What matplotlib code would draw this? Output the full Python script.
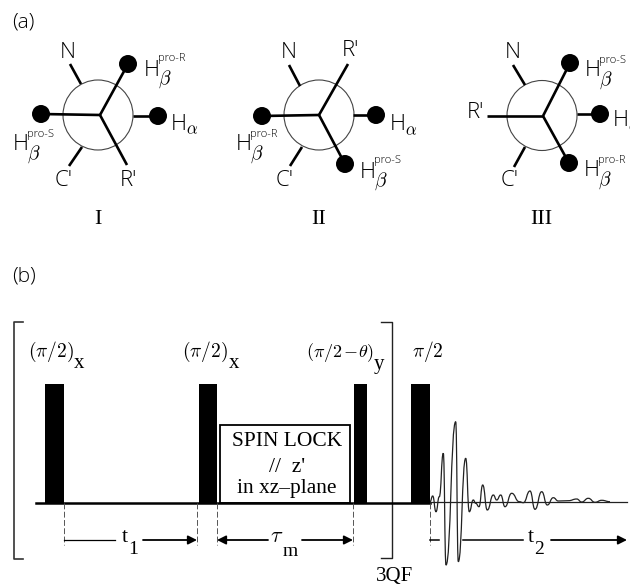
import matplotlib
matplotlib.use("Agg")
import matplotlib.pyplot as plt
from matplotlib.patches import Circle, Rectangle, PathPatch
from matplotlib.path import Path

# everything is in reference pixels, y going down
hubs = [(100, 115), (319, 115), (543, 116)]
circles = [(98, 115), (319, 115), (542, 115.5)]
radius = 35
bonds_long = [
    [(41, 114), (128, 64), (127, 165)],
    [(262, 116), (348, 64), (345, 164)],
    [(487, 116), (570, 63), (569, 163)],
]
stubs = [
    [((81, 84), (70, 64)), ((82, 147), (69, 166)), ((133, 116), (158, 116))],
    [((300, 86), (289, 65)), ((302, 147), (290, 166)), ((353, 115), (376, 115))],
    [((525, 85), (513, 65)), ((525, 147), (514, 167)), ((577, 114), (600, 114))],
]
dots = [
    [(41, 114), (128, 64), (158, 116)],
    [(262, 116), (345, 164), (376, 115)],
    [(570, 63), (569, 163), (600, 114)],
]
atom_labels = [
    ("N", 68, 52), ("C'", 64, 180), ("R'", 128, 180),
    ("N", 289, 52), ("C'", 285, 180), ("R'", 350, 50),
    ("N", 513, 53), ("C'", 510, 180), ("R'", 475, 113),
]
h_beta = [
    (144, 70, "pro-R"), (13, 145, "pro-S"),
    (236, 145, "pro-R"), (360, 172, "pro-S"),
    (585, 71, "pro-S"), (584, 171, "pro-R"),
]
h_alpha = [(171, 124), (390, 125), (613, 121)]
numerals = [("I", 98, 220), ("II", 319, 220), ("III", 541, 220)]

pulses = [(45, 64), (199, 217), (354, 367), (411, 430)]
pulse_top = 384
baseline_y = 503
dash_x = [64, 197, 217, 353, 430]
pulse_labels = [
    (28, 352, "$(\\pi/2)$", 74, 363, "x"),
    (182, 352, "$(\\pi/2)$", 229, 363, "x"),
    (306, 352, "$(\\pi/2\\,{\\mathrm{-}}\\theta)$", 373.5, 364, "y"),
]
box_lines = ["SPIN LOCK", "//  z'", "in xz\u2013plane"]
box_line_y = [441, 468, 489]

# extrema of the decay
fid_x = [430, 432.7, 436, 439.3, 443.3, 446, 455.7, 458.3, 465.7, 469.3, 473.3, 475.7,
         479, 482.7, 487.3, 493.3, 496.7, 500.7, 505, 511.7, 519.3, 523.3, 530, 535,
         541.7, 547.3, 553.3, 558.3, 568.3, 576.7, 581.7, 588.3, 595, 601.7, 610]
fid_y = [501.7, 496, 511.7, 496.7, 453.3, 565, 421.7, 561.7, 458.3, 511.7, 500, 503.3,
         506.7, 485, 510, 495, 500, 495, 506.7, 493.3, 501.7, 502.7, 491, 509.3,
         491.7, 505, 497.7, 501, 500.7, 499, 502, 498.3, 502.3, 500.3, 501.7]

plt.rcParams["font.family"] = ["Liberation Serif", "DejaVu Sans"]
plt.rcParams["mathtext.fontset"] = "cm"

fig = plt.figure(figsize=(6.3, 5.85), dpi=100)
ax = fig.add_axes([0, 0, 1, 1])
ax.set_xlim(0, 630)
ax.set_ylim(585, 0)
ax.axis("off")

SANS = "Open Sans"
ax.text(12, 23, "(a)", family=SANS, fontsize=15, ha="left", va="center", fontweight="light")
ax.text(12, 277, "(b)", family=SANS, fontsize=15, ha="left", va="center", fontweight="light")

# Newman projections
for hub, c, longs, st, ds in zip(hubs, circles, bonds_long, stubs, dots):
    ax.add_patch(Circle(c, radius, fc="white", ec="#444444", lw=0.8, zorder=1))
    for end in longs:
        ax.plot([hub[0], end[0]], [hub[1], end[1]], color="black", lw=1.9, zorder=2,
                solid_capstyle="butt")
    for a, b in st:
        ax.plot([a[0], b[0]], [a[1], b[1]], color="black", lw=1.9, zorder=2,
                solid_capstyle="butt")
    for d in ds:
        ax.add_patch(Circle(d, 9, fc="black", ec="none", zorder=3))

for txt, x, y in atom_labels:
    ax.text(x, y, txt, family=SANS, fontsize=16, ha="center", va="center", fontweight="light")
for x, y, tag in h_beta:
    ax.text(x, y, "H", family=SANS, fontsize=16, ha="left", va="center", fontweight="light")
    ax.text(x + 14, y + 9, "$\\beta$", fontsize=14, ha="left", va="center")
    ax.text(x + 14, y - 11, tag, family=SANS, fontsize=8, ha="left", va="center", fontweight="light")
for x, y in h_alpha:
    ax.text(x, y, "H", family=SANS, fontsize=16, ha="left", va="center", fontweight="light")
    ax.text(x + 15, y + 6, "$\\alpha$", fontsize=12, ha="left", va="center", clip_on=True)
for txt, x, y in numerals:
    ax.text(x, y, txt, fontsize=16, ha="center", va="center")

# pulse sequence
ax.plot([23, 14, 14, 23], [322, 322, 559, 559], color="#333333", lw=1.2)
ax.plot([381, 392, 392, 381], [322, 322, 558, 558], color="#222222", lw=1.0)

ax.plot([36, 430], [baseline_y, baseline_y], color="black", lw=1.8, zorder=2)
ax.plot([430, 627], [501.7, 501.7], color="#222222", lw=0.9, zorder=2)
ax.add_patch(Rectangle((220, 425), 130, baseline_y - 425, fc="white", ec="black", lw=1.3, zorder=1))
for x0, x1 in pulses:
    ax.add_patch(Rectangle((x0, pulse_top), x1 - x0, baseline_y - pulse_top, fc="black", ec="none", zorder=3))
for x in dash_x:
    ax.plot([x, x], [baseline_y, 545], color="#555555", lw=0.7, ls=(0, (6, 2.5)))

for i, (x, y, txt, sx, sy, sub) in enumerate(pulse_labels):
    ax.text(x, y, txt, fontsize=13 if i == 2 else 14, ha="left", va="center")
    ax.text(sx, sy, sub, fontsize=15, ha="left", va="center")
ax.text(412, 352, "$\\pi/2$", fontsize=14, ha="left", va="center")
for txt, y in zip(box_lines, box_line_y):
    ax.text(287, y, txt, fontsize=15.5, ha="center", va="center")

# FID, one s-curve between neighbouring extrema
verts = [(fid_x[0], fid_y[0])]
codes = [Path.MOVETO]
for i in range(len(fid_x) - 1):
    mid = (fid_x[i] + fid_x[i + 1]) / 2
    verts += [(mid, fid_y[i]), (mid, fid_y[i + 1]), (fid_x[i + 1], fid_y[i + 1])]
    codes += [Path.CURVE4] * 3
ax.add_patch(PathPatch(Path(verts, codes), fc="none", ec="#222222", lw=0.9, zorder=2))


# delay arrows
def arrow(x0, x1, y=540):
    ax.annotate("", xy=(x1, y), xytext=(x0, y), zorder=2,
                arrowprops=dict(arrowstyle="-|>", color="black", lw=1.3, shrinkA=0, shrinkB=0,
                                mutation_scale=13))


ax.plot([64, 115], [540, 540], color="black", lw=0.9)
arrow(143, 197)
arrow(268, 217)
arrow(302, 353)
ax.plot([430, 439], [540, 540], color="black", lw=1.1)
ax.plot([463, 523], [540, 540], color="black", lw=1.1)
arrow(551, 627)

ax.text(125, 538, "t", fontsize=16, ha="center", va="center")
ax.text(133, 550, "1", fontsize=14, ha="center", va="center")
ax.text(277, 538, "$\\tau$", fontsize=16, ha="center", va="center")
ax.text(290, 551, "m", fontsize=14, ha="center", va="center")
ax.text(531, 538, "t", fontsize=16, ha="center", va="center")
ax.text(539, 550, "2", fontsize=14, ha="center", va="center")
ax.text(394.5, 577, "3QF", fontsize=15, ha="center", va="center")

fig.savefig("out.png", dpi=100)
